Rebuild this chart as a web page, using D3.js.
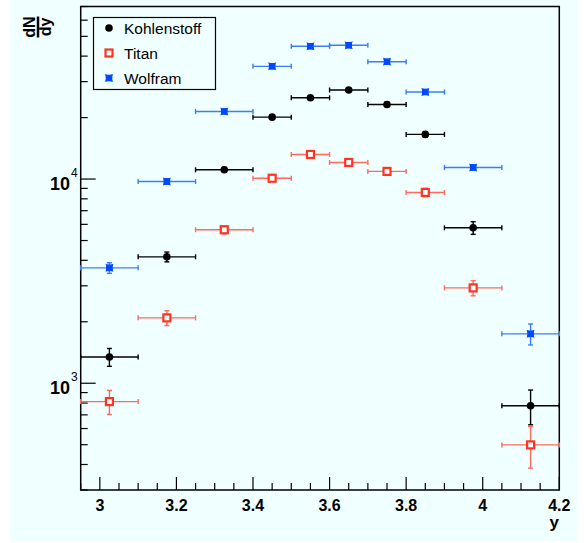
<!DOCTYPE html>
<html><head><meta charset="utf-8">
<script src="https://cdn.jsdelivr.net/npm/d3@7"></script>
<style>body{margin:0;background:#fff}svg{display:block}</style>
</head><body><svg id="c" width="584" height="543"></svg>
<script>
const binEdges = [2.95, 3.1, 3.25, 3.4, 3.5, 3.6, 3.7, 3.8, 3.9, 4.05, 4.2];
const seriesNames = ["Kohlenstoff", "Titan", "Wolfram"];
const kohlenstoff = [1345, 4160, 11100, 20100, 25000, 27300, 23200, 16550, 5770, 776];
const kohlenstoffErr = [135, 230, 300, 500, 600, 600, 600, 500, 410, 150];
const titan = [813, 2090, 5645, 10090, 13200, 12060, 10900, 8600, 2930, 499];
const titanErr = [110, 175, 250, 300, 350, 350, 350, 400, 250, 115];
const wolfram = [3673, 9730, 21430, 35650, 44700, 45200, 37570, 26700, 11400, 1745];
const wolframErr = [220, 300, 500, 800, 900, 900, 800, 600, 300, 205];
const xTickLabels = ["3", "3.2", "3.4", "3.6", "3.8", "4", "4.2"];
const yDecades = [3, 4];

const svg = d3.select("#c");
const L = 80.7, R = 559.3, T = 6.5, B = 490;
const x = d3.scaleLinear().domain([2.95, 4.2]).range([L, R]);
const y = d3.scaleLog().domain([300, 70000]).range([B, T]);
const bg = "#f0ffff";

svg.append("rect").attr("x", 10).attr("y", 0).attr("width", 567).attr("height", 541).attr("fill", bg);

// axes
const xAxis = d3.axisBottom(x).tickValues(d3.range(2.95, 4.2001, 0.05).map(v => +v.toFixed(2)))
  .tickSize(0).tickFormat("");
const gx = svg.append("g").attr("transform", `translate(0,${B})`);
const xt = d3.range(2.95, 4.2001, 0.05).map(v => +v.toFixed(2));
gx.selectAll("line.t").data(xt).join("line")
  .attr("x1", d => x(d)).attr("x2", d => x(d))
  .attr("y1", 0).attr("y2", d => (Math.abs(Math.round(d * 5) - d * 5) < 1e-6) ? -13 : -7)
  .attr("stroke", "#000").attr("stroke-width", 1.2);
gx.selectAll("text").data(xTickLabels).join("text")
  .attr("x", d => x(+d)).attr("y", 21)
  .attr("text-anchor", "middle").attr("font-family", "Liberation Sans, Arial, sans-serif")
  .attr("font-weight", "bold").attr("font-size", 16).text(d => d);

// y ticks
const yt = [];
for (let e = 2; e <= 4; e++) for (let m = 1; m <= 9; m++) { const v = m * Math.pow(10, e); if (v >= 300 && v <= 70000) yt.push(v); }
svg.append("g").selectAll("line").data(yt).join("line")
  .attr("x1", L).attr("x2", d => L + (Math.abs(Math.log10(d) - Math.round(Math.log10(d))) < 1e-9 ? 15 : 7))
  .attr("y1", d => y(d)).attr("y2", d => y(d))
  .attr("stroke", "#000").attr("stroke-width", 1.2);
const ylab = svg.append("g").selectAll("g").data(yDecades).join("g")
  .attr("transform", d => `translate(70,${y(Math.pow(10, d)) + 11})`)
  .attr("font-family", "Liberation Sans, Arial, sans-serif");
ylab.append("text").attr("text-anchor", "end").attr("font-weight", "bold").attr("font-size", 18).text("10");
ylab.append("text").attr("x", 1).attr("y", -13).attr("font-size", 12).text(d => d);

// frame
svg.append("rect").attr("x", L).attr("y", T).attr("width", R - L).attr("height", B - T)
  .attr("fill", "none").attr("stroke", "#000").attr("stroke-width", 1.5);

// axis titles
svg.append("text").attr("x", 559).attr("y", 528).attr("text-anchor", "end")
  .attr("font-family", "Liberation Sans, Arial, sans-serif").attr("font-weight", "bold").attr("font-size", 17).text("y");
const yt2 = svg.append("g").attr("transform", "translate(38,27) rotate(-90)")
  .attr("font-family", "Liberation Sans, Arial, sans-serif").attr("font-weight", "bold").attr("font-size", 16);
yt2.append("text").attr("text-anchor", "middle").attr("y", -3).text("dN");
yt2.append("line").attr("x1", -10.5).attr("x2", 10.5).attr("y1", 0).attr("y2", 0).attr("stroke", "#000").attr("stroke-width", 2.5);
yt2.append("text").attr("text-anchor", "middle").attr("y", 13).text("dy");

// data
const mids = binEdges.slice(0, -1).map((e, i) => (e + binEdges[i + 1]) / 2);
const series = [
  { name: seriesNames[0], vals: kohlenstoff, errs: kohlenstoffErr, line: "#000000", mark: "#000000", type: "circle" },
  { name: seriesNames[1], vals: titan, errs: titanErr, line: "#ff6a5a", mark: "#ff3322", type: "square" },
  { name: seriesNames[2], vals: wolfram, errs: wolframErr, line: "#3a7cff", mark: "#0048ff", type: "star" }
];
const starPath = "M-4,-4 L0,-2.5 L4,-4 L2.5,0 L4,4 L0,2.5 L-4,4 L-2.5,0 Z";
function drawMarker(g, s) {
  if (s.type === "circle") g.append("circle").attr("r", 3.8).attr("fill", s.mark);
  else if (s.type === "square") g.append("rect").attr("x", -3.5).attr("y", -3.5).attr("width", 7).attr("height", 7)
    .attr("fill", "#fff").attr("stroke", s.mark).attr("stroke-width", 2.2);
  else { g.append("rect").attr("x", -3.3).attr("y", -3.3).attr("width", 6.6).attr("height", 6.6).attr("fill", s.mark);
    g.append("path").attr("d", starPath).attr("fill", s.mark); }
}
series.forEach(s => {
  const g = svg.append("g");
  s.vals.forEach((v, i) => {
    const cx = x(mids[i]), cy = y(v), x0 = x(binEdges[i]), x1 = x(binEdges[i + 1]);
    const yu = y(v + s.errs[i]), yd = y(v - s.errs[i]);
    const lg = g.append("g").attr("stroke", s.line).attr("stroke-width", 1.4);
    lg.append("line").attr("x1", x0).attr("x2", x1).attr("y1", cy).attr("y2", cy);
    lg.append("line").attr("x1", x0).attr("x2", x0).attr("y1", cy - 2.5).attr("y2", cy + 2.5);
    lg.append("line").attr("x1", x1).attr("x2", x1).attr("y1", cy - 2.5).attr("y2", cy + 2.5);
    lg.append("line").attr("x1", cx).attr("x2", cx).attr("y1", yu).attr("y2", yd);
    lg.append("line").attr("x1", cx - 2.5).attr("x2", cx + 2.5).attr("y1", yu).attr("y2", yu);
    lg.append("line").attr("x1", cx - 2.5).attr("x2", cx + 2.5).attr("y1", yd).attr("y2", yd);
    const mg = g.append("g").attr("transform", `translate(${cx},${cy})`);
    drawMarker(mg, s);
  });
});

// legend
const lg = svg.append("g");
lg.append("rect").attr("x", 93.5).attr("y", 17.5).attr("width", 122).attr("height", 72)
  .attr("fill", bg).attr("stroke", "#000").attr("stroke-width", 1.2);
series.forEach((s, i) => {
  const cy = 28 + i * 25;
  drawMarker(lg.append("g").attr("transform", `translate(109,${cy})`), s);
  lg.append("text").attr("x", 124).attr("y", cy + 5.5).attr("font-family", "Liberation Sans, Arial, sans-serif")
    .attr("font-size", 15.5).text(s.name);
});
</script></body></html>
